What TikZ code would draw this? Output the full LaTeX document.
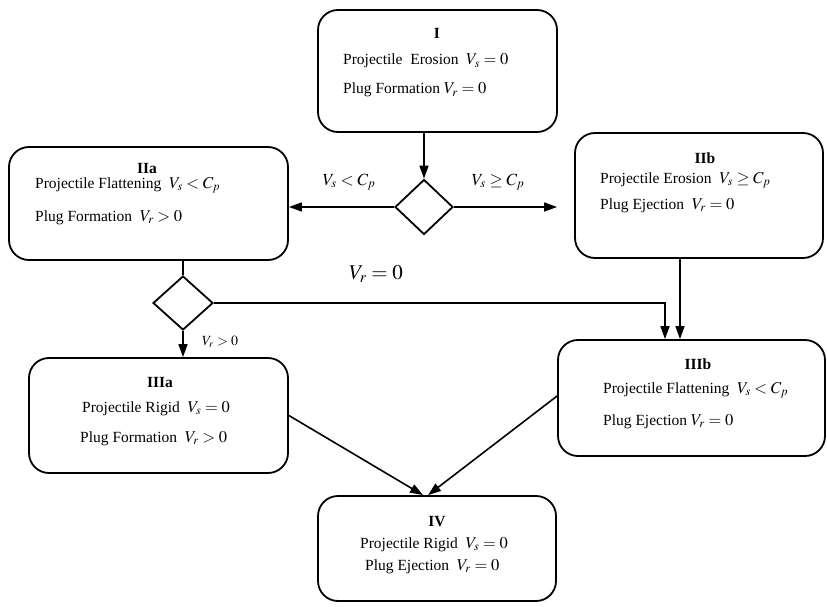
\documentclass[tikz,border=0pt]{standalone}
\usepackage{mathptmx}
\usepackage{fontspec}
\setmainfont{Liberation Serif}
\usetikzlibrary{shapes.geometric,arrows.meta}
\newcommand{\mm}[1]{{\fontsize{16.5}{18}\selectfont$#1$}}
\begin{document}
\begin{tikzpicture}[x=1pt,y=-1pt,
  box/.style={draw,rounded corners=20pt,line width=1.8pt,inner sep=0pt},
  dec/.style={draw,diamond,line width=1.8pt,inner sep=0pt},
  arr/.style={-{Triangle[length=13pt,width=9pt]},line width=1.6pt},
  ln/.style={line width=1.6pt},
  txt/.style={inner sep=0pt,font=\fontsize{15.5}{18}\selectfont},
  ttl/.style={inner sep=0pt,font=\fontsize{15.5}{18}\selectfont\bfseries,anchor=base},
  lbl/.style={inner sep=0pt,font=\fontsize{17}{20}\selectfont}]
\useasboundingbox (0,0) rectangle (827,607);

% boxes
\node[box,minimum width=239pt,minimum height=122pt] (I) at (437.5,71) {};
\node[box,minimum width=279pt,minimum height=113pt] (IIa) at (148.5,203.5) {};
\node[box,minimum width=248pt,minimum height=125pt] (IIb) at (699,195.5) {};
\node[box,minimum width=259pt,minimum height=115pt] (IIIa) at (158.5,415.5) {};
\node[box,minimum width=267pt,minimum height=116pt] (IIIb) at (691.5,398) {};
\node[box,minimum width=238pt,minimum height=105pt] (IV) at (437,548.5) {};

% decisions
\node[dec,minimum width=58pt,minimum height=55pt] (d1) at (424,207) {};
\node[dec,minimum width=60pt,minimum height=54pt] (d2) at (183,303) {};

% texts
\node[ttl] (tI) at (437,39) {I};
\node[txt,anchor=base west] (I1) at (343,65) {Projectile~ Erosion~ \mm{V_s=0}};
\node[txt,anchor=base west] (I2) at (343,94) {Plug Formation \mm{V_r=0}};

\node[ttl] (tIIa) at (147,173) {IIa};
\node[txt,anchor=base west] (IIa1) at (35,188) {Projectile Flattening~ \mm{V_s<C_p}};
\node[txt,anchor=base west] (IIa2) at (35,221) {Plug Formation~ \mm{V_r>0}};

\node[ttl] (tIIb) at (705,163) {IIb};
\node[txt,anchor=base west] (IIb1) at (600,183) {Projectile Erosion~ \mm{V_s\geq C_p}};
\node[txt,anchor=base west] (IIb2) at (600,209) {Plug Ejection~ \mm{V_r=0}};

\node[ttl] (tIIIa) at (160,387) {IIIa};
\node[txt,anchor=base west] (IIIa1) at (82,412) {Projectile Rigid~ \mm{V_s=0}};
\node[txt,anchor=base west] (IIIa2) at (80,442) {Plug Formation~ \mm{V_r>0}};

\node[ttl] (tIIIb) at (698,369) {IIIb};
\node[txt,anchor=base west] (IIIb1) at (603,393) {Projectile Flattening~ \mm{V_s<C_p}};
\node[txt,anchor=base west] (IIIb2) at (603,425) {Plug Ejection \mm{V_r=0}};

\node[ttl] (tIV) at (437,526) {IV};
\node[txt,anchor=base west] (IV1) at (360,548) {Projectile Rigid~ \mm{V_s=0}};
\node[txt,anchor=base west] (IV2) at (365,570) {Plug Ejection~ \mm{V_r=0}};

% edge labels
\node[lbl] (l1) at (349,182) {$V_s<C_p$};
\node[lbl] (l2) at (498,182) {$V_s\geq C_p$};
\node[inner sep=0pt,font=\fontsize{21}{24}\selectfont] (l3) at (376,274) {$V_r=0$};
\node[inner sep=0pt,font=\fontsize{14}{16}\selectfont] (l4) at (220,342) {$V_r>0$};

% connectors
\draw[arr] (d1.north |- I.south) -- (d1.north);
\draw[arr] (d1.west) -- (IIa.east |- d1.west);
\draw[arr] (d1.east) -- ([xshift=-17pt]IIb.west |- d1.east);
\draw[ln] (d2.north |- IIa.south) -- (d2.north);
\draw[arr] (d2.south) -- (d2.south |- IIIa.north);
\draw[arr] (d2.east) -| ([xshift=-26.5pt]IIIb.north);
\draw[arr] ([xshift=-11.5pt]IIIb.north |- IIb.south) -- ([xshift=-11.5pt]IIIb.north);
\draw[arr] (IIIa.east) -- ([xshift=-14pt]IV.north);
\draw[arr] ([yshift=2pt]IIIb.west) -- ([xshift=-9pt]IV.north);
\end{tikzpicture}
\end{document}
